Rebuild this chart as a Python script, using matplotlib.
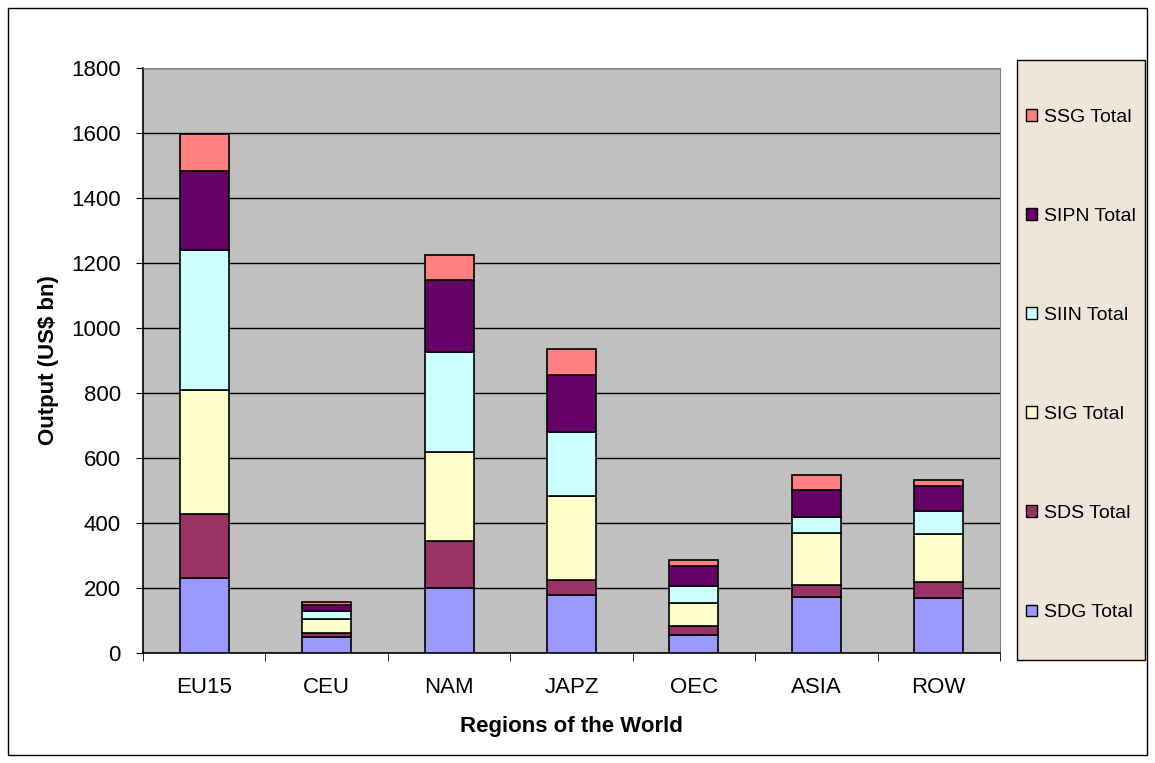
import numpy as np
import matplotlib.pyplot as plt
from matplotlib.patches import Rectangle, Patch

plt.rcParams['font.family'] = ['Liberation Sans', 'DejaVu Sans']

regions = ["EU15", "CEU", "NAM", "JAPZ", "OEC", "ASIA", "ROW"]
series = ["SDG Total", "SDS Total", "SIG Total", "SIIN Total", "SIPN Total", "SSG Total"]
sdg = [231, 48, 199, 177, 55, 173, 168]
sds = [197, 14, 146, 48, 28, 37, 50]
sig = [382, 43, 272, 257, 70, 158, 147]
siin = [431, 23, 310, 199, 54, 49, 71]
sipn = [241, 21, 222, 175, 62, 85, 77]
ssg = [115, 8, 76, 78, 17, 46, 20]
values = [sdg, sds, sig, siin, sipn, ssg]
colors = ["#9999FF", "#993366", "#FFFFCC", "#CCFFFF", "#660066", "#FF8080"]

fig = plt.figure(figsize=(11.55, 7.63), dpi=100)
ax = fig.add_axes([143 / 1155, 1 - 653 / 763, 857 / 1155, 585 / 763])
ax.set_facecolor("#C0C0C0")

x = np.arange(len(regions))
bottom = np.zeros(len(regions))
for vals, col, name in zip(values, colors, series):
    ax.bar(x, vals, 0.4, bottom=bottom, color=col, edgecolor="black",
           linewidth=1.2, label=name, zorder=3)
    bottom += np.array(vals)

ax.set_xlim(-0.5, len(regions) - 0.5)
ax.set_ylim(0, 1800)
ax.set_yticks(np.arange(0, 1801, 200))
ax.yaxis.grid(True, color="black", linewidth=1, zorder=1)
ax.set_axisbelow(True)
ax.set_xticks(x)
ax.set_xticklabels(regions, fontsize=16)
ax.tick_params(axis="x", length=0, pad=17.5)
ax.set_xticks(np.arange(-0.5, len(regions), 1), minor=True)
ax.tick_params(axis="x", which="minor", length=6, direction="out", color="black")
ax.tick_params(axis="y", labelsize=16, length=5, direction="out", pad=11)
ax.spines["top"].set_color("#808080")
ax.spines["right"].set_color("#808080")
ax.spines["left"].set_linewidth(1.2)
ax.spines["bottom"].set_linewidth(1.2)
ax.set_xlabel("Regions of the World", fontsize=16, fontweight="bold", labelpad=13)
ax.set_ylabel("Output (US$ bn)", fontsize=16, fontweight="bold", labelpad=9)

# legend box
fig.patches.append(Rectangle((1017 / 1155, 1 - 660 / 763), 128 / 1155, 600 / 763,
                             transform=fig.transFigure, facecolor="#EFE6D9",
                             edgecolor="black", linewidth=1))
handles = [Patch(facecolor=c, edgecolor="black", label=s) for c, s in zip(colors, series)]
fig.legend(handles=handles[::-1], loc="upper left",
           bbox_to_anchor=(1026 / 1155, 1 - 109 / 763), frameon=False,
           fontsize=14, labelspacing=4.22, handlelength=0.55, handleheight=0.55,
           handletextpad=0.4, borderpad=0, borderaxespad=0)

# outer chart border
fig.patches.append(Rectangle((8 / 1155, 8 / 763), 1139 / 1155, 747 / 763,
                             transform=fig.transFigure, fill=False,
                             edgecolor="black", linewidth=1))

plt.savefig("out.png", dpi=100)
